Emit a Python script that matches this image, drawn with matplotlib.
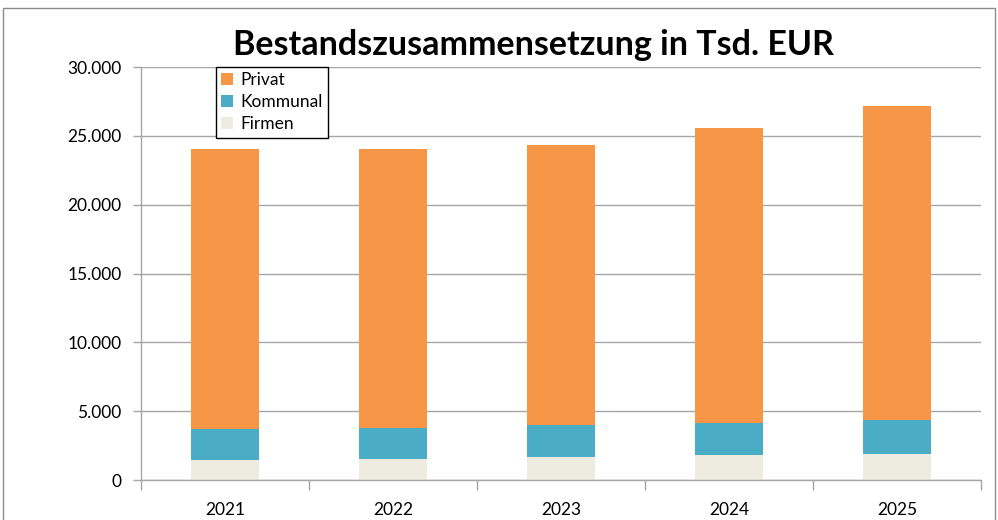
import numpy as np
import matplotlib.pyplot as plt
from matplotlib.patches import Rectangle
from matplotlib.ticker import FuncFormatter, FixedLocator

plt.rcParams['font.family'] = ['Lato', 'DejaVu Sans']

# Daten (Tsd. EUR)
jahre = ['2021', '2022', '2023', '2024', '2025']
firmen = [1450, 1550, 1670, 1800, 1910]
kommunal = [2230, 2250, 2350, 2320, 2450]
privat = [20370, 20250, 20330, 21460, 22820]

farben = {'Privat': '#F79646', 'Kommunal': '#4BACC6', 'Firmen': '#EEECE1'}

fig = plt.figure(figsize=(9.98, 5.2), dpi=100)
ax = fig.add_axes([0.1413, 0.0769, 0.8417, 0.7942])

x = np.arange(len(jahre))
b_firmen = ax.bar(x, firmen, width=0.4, color=farben['Firmen'], zorder=2, label='Firmen')
b_komm = ax.bar(x, kommunal, width=0.4, bottom=firmen, color=farben['Kommunal'],
                zorder=2, label='Kommunal')
unten = np.array(firmen) + np.array(kommunal)
b_priv = ax.bar(x, privat, width=0.4, bottom=unten, color=farben['Privat'],
                zorder=2, label='Privat')

ax.set_xlim(-0.5, len(jahre) - 0.5)
ax.set_ylim(0, 30000)
ax.set_yticks(np.arange(0, 30001, 5000))
ax.yaxis.set_major_formatter(FuncFormatter(lambda v, p: f'{int(v):,}'.replace(',', '.')))
ax.yaxis.grid(True, color='#A6A6A6', linewidth=1, zorder=0)

# Kategorie-Trennstriche als Ticks, Beschriftung in der Mitte
ax.xaxis.set_major_locator(FixedLocator(np.arange(-0.5, len(jahre), 1.0)))
ax.xaxis.set_major_formatter(FuncFormatter(lambda v, p: ''))
ax.set_xticks(x, minor=True)
ax.set_xticklabels(jahre, minor=True)
ax.tick_params(axis='x', which='major', length=7, color='#A6A6A6', width=1)
ax.tick_params(axis='x', which='minor', length=0, pad=16, labelsize=12.5)
ax.tick_params(axis='y', length=6, color='#A6A6A6', width=1, labelsize=12.5, pad=8)

for s in ['top', 'right']:
    ax.spines[s].set_visible(False)
for s in ['left', 'bottom']:
    ax.spines[s].set_color('#A6A6A6')
    ax.spines[s].set_linewidth(1)

leg = ax.legend(handles=[b_priv, b_komm, b_firmen], loc='upper left',
                bbox_to_anchor=(0.089, 1.0), fancybox=False, framealpha=1,
                edgecolor='black', fontsize=12.5, handlelength=0.7, handleheight=0.7,
                handletextpad=0.4, borderpad=0.3, labelspacing=0.35,
                borderaxespad=0)
leg.get_frame().set_linewidth(1)

fig.text(0.535, 0.913, 'Bestandszusammensetzung in Tsd. EUR', ha='center', va='center',
         fontsize=24.5, fontweight='bold')

# Diagrammrahmen
fig.patches.append(Rectangle((0.003, -0.05), 0.994, 1.035, transform=fig.transFigure,
                             fill=False, edgecolor='#8C8C8C', linewidth=1))

fig.savefig('out.png', dpi=100)
